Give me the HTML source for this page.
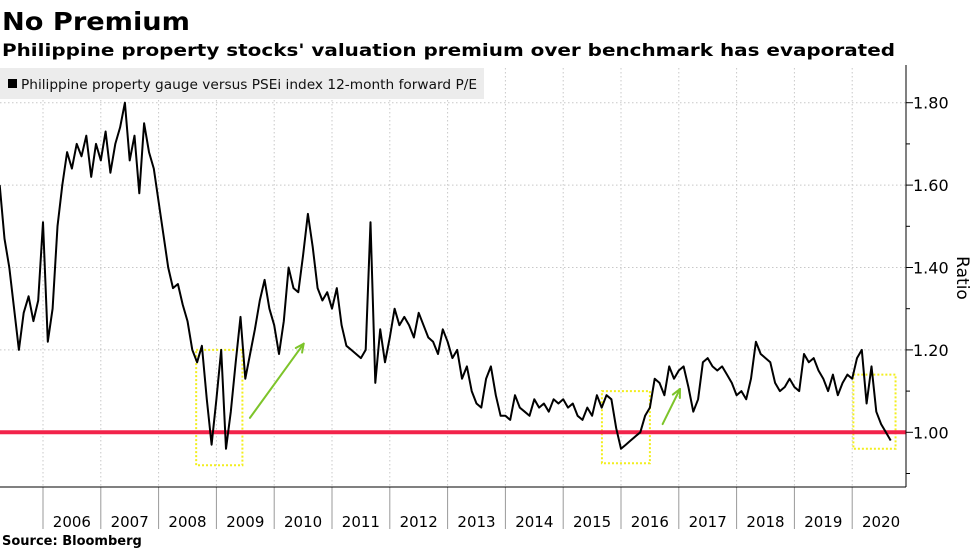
<!DOCTYPE html>
<html><head><meta charset="utf-8"><style>
html,body{margin:0;padding:0;background:#fff;}
svg{display:block;font-family:"DejaVu Sans","Liberation Sans",sans-serif;}
</style></head><body>
<svg id="chart" width="977" height="549" viewBox="0 0 977 549" xmlns="http://www.w3.org/2000/svg">
<text x="2" y="30" font-size="25" font-weight="bold" textLength="188" lengthAdjust="spacingAndGlyphs">No Premium</text>
<text x="2" y="56" font-size="17" font-weight="bold" textLength="893" lengthAdjust="spacingAndGlyphs">Philippine property stocks' valuation premium over benchmark has evaporated</text>
<g id="grid"></g>
<g id="annot"></g>
<g id="series"></g>
<g id="axes"></g>
<g>
<rect x="0" y="68" width="484" height="31" fill="#ececec"/>
<rect x="8" y="79" width="9" height="9" fill="#000"/>
<text x="21" y="89" font-size="13" fill="#111" textLength="456" lengthAdjust="spacingAndGlyphs">Philippine property gauge versus PSEi index 12-month forward P/E</text>
</g>
<text transform="translate(957,278) rotate(90)" font-size="17" text-anchor="middle">Ratio</text>
<text x="2" y="545" font-size="13" font-weight="bold">Source: Bloomberg</text>
</svg>
<script>
const seriesStart=2005.25;
const monthsPerYear=12;
const v2005=[1.60,1.47,1.40,1.30,1.20,1.29,1.33,1.27,1.32];
const v2006=[1.51,1.22,1.30,1.50,1.60,1.68,1.64,1.70,1.67,1.72,1.62,1.70];
const v2007=[1.66,1.73,1.63,1.70,1.74,1.80,1.66,1.72,1.58,1.75,1.68,1.64];
const v2008=[1.56,1.48,1.40,1.35,1.36,1.31,1.27,1.20,1.17,1.21,1.08,0.97];
const v2009=[1.08,1.20,0.96,1.05,1.17,1.28,1.13,1.19,1.25,1.32,1.37,1.30];
const v2010=[1.26,1.19,1.27,1.40,1.35,1.34,1.43,1.53,1.45,1.35,1.32,1.34];
const v2011=[1.30,1.35,1.26,1.21,1.20,1.19,1.18,1.20,1.51,1.12,1.25,1.17];
const v2012=[1.23,1.30,1.26,1.28,1.26,1.23,1.29,1.26,1.23,1.22,1.19,1.25];
const v2013=[1.22,1.18,1.20,1.13,1.16,1.10,1.07,1.06,1.13,1.16,1.09,1.04];
const v2014=[1.04,1.03,1.09,1.06,1.05,1.04,1.08,1.06,1.07,1.05,1.08,1.07];
const v2015=[1.08,1.06,1.07,1.04,1.03,1.06,1.04,1.09,1.06,1.09,1.08,1.01];
const v2016=[0.96,0.97,0.98,0.99,1.00,1.04,1.06,1.13,1.12,1.09,1.16,1.13];
const v2017=[1.15,1.16,1.11,1.05,1.08,1.17,1.18,1.16,1.15,1.16,1.14,1.12];
const v2018=[1.09,1.10,1.08,1.13,1.22,1.19,1.18,1.17,1.12,1.10,1.11,1.13];
const v2019=[1.11,1.10,1.19,1.17,1.18,1.15,1.13,1.10,1.14,1.09,1.12,1.14];
const v2020=[1.13,1.18,1.20,1.07,1.16,1.05,1.02,1.00,0.98];
const yTicks=[1.00,1.20,1.40,1.60,1.80];
const yTickLabels=["1.00","1.20","1.40","1.60","1.80"];
const yMinorTicks=[0.90,1.10,1.30,1.50,1.70];
const years=[2006,2007,2008,2009,2010,2011,2012,2013,2014,2015,2016,2017,2018,2019,2020];
const refValue=1.00;
const boxes=[[2008.65,2009.45,1.20,0.92],[2015.67,2016.50,1.10,0.925],[2020.02,2020.75,1.14,0.96]];
const arrows=[[2009.58,1.035,2010.51,1.215],[2016.72,1.02,2017.02,1.105]];

const values=[].concat(v2005,v2006,v2007,v2008,v2009,v2010,v2011,v2012,v2013,v2014,v2015,v2016,v2017,v2018,v2019,v2020);
const NS="http://www.w3.org/2000/svg";
const X=t=>43+(t-2006)*57.8;
const Y=v=>432.3-(v-1)*412;
function mk(tag,attrs,parent){const e=document.createElementNS(NS,tag);for(const k in attrs)e.setAttribute(k,attrs[k]);parent.appendChild(e);return e;}
const gridG=document.getElementById('grid'),axesG=document.getElementById('axes'),seriesG=document.getElementById('series'),annotG=document.getElementById('annot');
const plotRight=906,plotBottom=487,plotTop=68;
yTicks.forEach((v,i)=>{
  const l=mk('line',{x1:0,x2:plotRight,y1:Y(v),y2:Y(v),stroke:'#c8c8c8','stroke-dasharray':'1.5,2.5','stroke-width':1},gridG);
  
  
  const tk=mk('line',{x1:plotRight,x2:plotRight+7,y1:Y(v),y2:Y(v),stroke:'#000'},axesG);
  
  
  const t=mk('text',{x:913,y:Y(v)+6,'font-size':16},axesG);t.textContent=yTickLabels[i];
  
  
});
yMinorTicks.forEach(v=>{
  const tk=mk('line',{x1:plotRight,x2:plotRight+4,y1:Y(v),y2:Y(v),stroke:'#000'},axesG);
  
  
});
years.forEach(yr=>{
  const gx=X(yr);
  const l=mk('line',{x1:gx,x2:gx,y1:plotTop,y2:plotBottom,stroke:'#c8c8c8','stroke-dasharray':'1.5,2.5'},gridG);
  
  
  const tk=mk('line',{x1:gx,x2:gx,y1:plotBottom,y2:529,stroke:'#999'},axesG);
  
  
  const t=mk('text',{x:X(yr+0.5),y:527,'font-size':15,'text-anchor':'middle'},axesG);t.textContent=String(yr);
  
  
});
const ax1=mk('line',{x1:0,x2:plotRight,y1:plotBottom,y2:plotBottom,stroke:'#000'},axesG);


const ax2=mk('line',{x1:plotRight,x2:plotRight,y1:65,y2:plotBottom,stroke:'#000'},axesG);


boxes.forEach(b=>{
  const r=mk('rect',{x:X(b[0]),y:Y(b[2]),width:X(b[1])-X(b[0]),height:Y(b[3])-Y(b[2]),fill:'none',stroke:'#f2ee1e','stroke-width':2,'stroke-dasharray':'2,2'},annotG);
  
  
});
arrows.forEach(a=>{
  const ax=X(a[0]),ay=Y(a[1]),bx=X(a[2]),by=Y(a[3]);
  const g=mk('g',{stroke:'#7dc42a','stroke-width':2,fill:'none','stroke-linecap':'round'},annotG);
  
  
  mk('line',{x1:ax,y1:ay,x2:bx,y2:by},g);
  const ang=Math.atan2(by-ay,bx-ax),L=9;
  [0.45,-0.45].forEach(d=>mk('line',{x1:bx,y1:by,x2:bx-L*Math.cos(ang+d),y2:by-L*Math.sin(ang+d)},g));
});
const ref=mk('line',{x1:0,x2:plotRight,y1:Y(refValue),y2:Y(refValue),stroke:'#f2234a','stroke-width':4},seriesG);


let d='';
values.forEach((v,i)=>{const t=seriesStart+i/monthsPerYear;d+=(i?'L':'M')+X(t).toFixed(1)+','+Y(v).toFixed(1);});
const p=mk('path',{d:d,fill:'none',stroke:'#000','stroke-width':2,'stroke-linejoin':'round'},seriesG);


</script>
</body></html>
